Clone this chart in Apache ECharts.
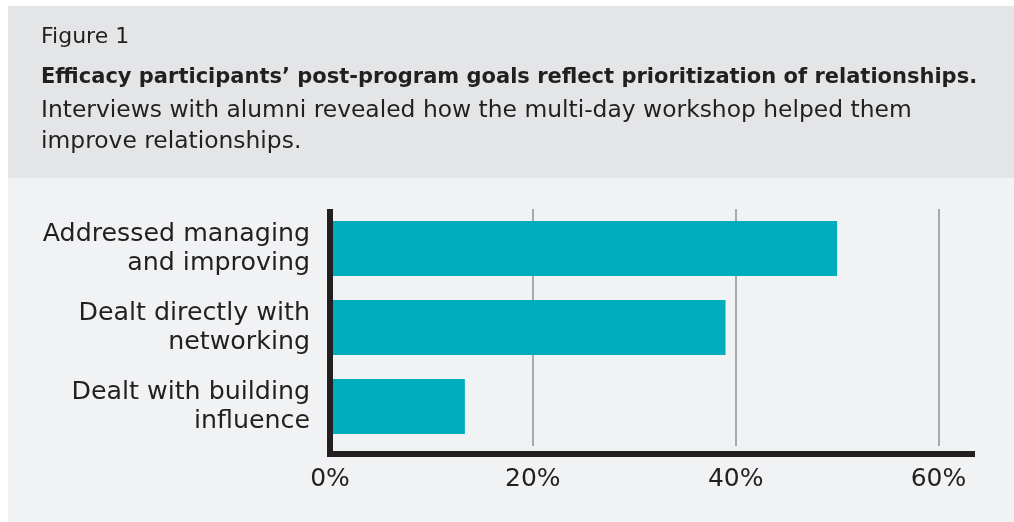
<!DOCTYPE html>
<html>
<head>
<meta charset="utf-8">
<title>Figure 1</title>
<script src="https://cdn.jsdelivr.net/npm/echarts@6/dist/echarts.min.js"></script>
<style>
  html, body { margin: 0; padding: 0; background: #fff; }
  #chart { width: 1014px; height: 522px; }
</style>
</head>
<body>
<div id="chart"></div>
<script>
// categories, top to bottom
const categories = [
  'Addressed managing\nand improving',
  'Dealt directly with\nnetworking',
  'Dealt with building\ninfluence'
];
// share of participants (%)
const shares = [50.0, 39.0, 13.3];
// x axis ticks
const xTicks = [0, 20, 40, 60];
const xMax = 63.6;

const figureLabel = 'Figure 1';
const headline = 'Efficacy participants\u2019 post-program goals reflect prioritization of relationships.';
const subLines = [
  'Interviews with alumni revealed how the multi-day workshop helped them',
  'improve relationships.'
];

const font = '"DejaVu Sans", sans-serif';
const ink = '#231f20';

const chart = echarts.init(document.getElementById('chart'));

const option = {
  backgroundColor: '#ffffff',
  animation: false,
  // panel backgrounds
  graphic: [
    { type: 'rect', z: -10, silent: true, shape: { x: 8, y: 6, width: 1006, height: 172 }, style: { fill: '#e4e5e7' } },
    { type: 'rect', z: -10, silent: true, shape: { x: 8, y: 178, width: 1006, height: 344 }, style: { fill: '#f1f2f4' } }
  ],
  title: [
    {
      text: figureLabel,
      left: 41,
      top: 24,
      padding: 0,
      textStyle: { fontFamily: font, fontSize: 22, fontWeight: 'normal', color: ink, lineHeight: 26 }
    },
    {
      text: headline,
      left: 41,
      top: 65,
      padding: 0,
      textStyle: { fontFamily: font, fontSize: 21, fontWeight: 'bold', color: ink, lineHeight: 26 }
    },
    {
      text: subLines.join('\n'),
      left: 41,
      top: 96,
      padding: 0,
      textStyle: { fontFamily: font, fontSize: 23.4, fontWeight: 'normal', color: ink, lineHeight: 30.8 }
    }
  ],
  grid: {
    left: 330,
    right: 39,
    top: 209,
    bottom: 76,
    containLabel: false
  },
  xAxis: {
    type: 'value',
    min: xTicks[0],
    max: xMax,
    interval: xTicks[1] - xTicks[0],
    offset: 8,
    z: 5,
    axisLine: { show: true, lineStyle: { color: ink, width: 6, cap: 'butt' } },
    axisTick: { show: false },
    splitLine: { show: false },
    axisLabel: {
      showMaxLabel: false,
      margin: 13,
      fontFamily: font,
      fontSize: 25,
      color: ink,
      formatter: v => (xTicks.indexOf(v) >= 0 ? v + '%' : '')
    }
  },
  yAxis: {
    type: 'category',
    inverse: true,
    data: categories,
    z: 5,
    axisLine: {
      show: true,
      lineStyle: { color: ink, width: 6, cap: 'butt' },
      // stretch the axis down to meet the offset x axis
      symbol: ['rect', 'none'],
      symbolSize: [6, 22]
    },
    axisTick: { show: false },
    axisLabel: {
      margin: 20,
      fontFamily: font,
      fontSize: 25.3,
      lineHeight: 29,
      color: ink,
      align: 'right'
    }
  },
  series: [
    {
      type: 'bar',
      data: shares,
      barWidth: 55,
      itemStyle: { color: '#00adbd' },
      z: 2,
      markLine: {
        silent: true,
        symbol: 'none',
        z: 1,
        label: { show: false },
        lineStyle: { color: '#a7a9ac', width: 2, type: 'solid' },
        data: xTicks.slice(1).map(v => ({ xAxis: v }))
      }
    }
  ]
};

chart.setOption(option);
</script>
</body>
</html>
